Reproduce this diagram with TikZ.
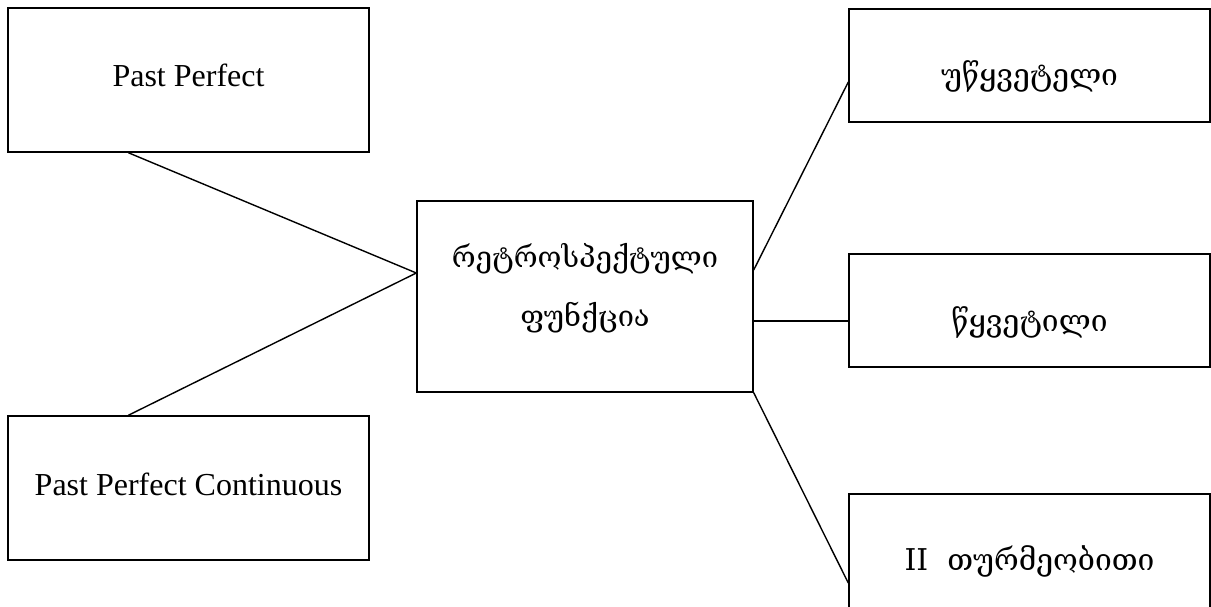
\documentclass[tikz,border=0pt]{standalone}
\usepackage{fontspec}
\setmainfont{Liberation Serif}
\newfontfamily\geo{DejaVu Serif}
\usetikzlibrary{calc}

\begin{document}
\begin{tikzpicture}[x=1pt,y=-1pt,
  box/.style={draw, line width=1.4pt, inner sep=0pt,
    minimum width=361pt, minimum height=113pt,
    font=\fontsize{32}{38}\selectfont},
  geobox/.style={box, font=\geo\fontsize{30}{36}\selectfont},
  link/.style={line width=1.4pt}]
\useasboundingbox (0,0) rectangle (1211,607);

% left column: English tense names
\node[box, minimum height=144pt, text height=30pt, text depth=16pt]
  (pp) at (188.5,80) {Past Perfect};
\node[box, minimum height=144pt, text height=30pt, text depth=16pt]
  (ppc) at (188.5,488) {Past Perfect Continuous};

% central box
\node[box, minimum width=336pt, minimum height=191pt, align=center,
      font=\geo\fontsize{29}{59}\selectfont]
  (ret) at (585,296.5)
  {\rule{0pt}{30pt}რეტროსპექტული\\ფუნქცია\rule[-30pt]{0pt}{30pt}};

% right column: Georgian tense names
\node[geobox, text height=46pt, text depth=5pt]
  (unc) at (1029.5,65.5) {უწყვეტელი};
\node[geobox, text height=46pt, text depth=5pt]
  (cont) at (1029.5,310.5) {წყვეტილი};
\node[geobox, minimum height=116pt, text height=42pt, text depth=6pt]
  (perf) at (1029.5,552) {II\ \ თურმეობითი};

% connectors
\draw[link] ($(pp.south west)+(121,0)$) -- ($(ret.west)+(0,-23.5)$);
\draw[link] ($(ppc.north west)+(121,0)$) -- ($(ret.west)+(0,-23.5)$);
\draw[link] ($(ret.east)+(0,-26.5)$) -- ($(unc.west)+(0,16.5)$);
\draw[link] ($(ret.east)+(0,24.5)$) -- ($(cont.west)+(0,10.5)$);
\draw[link] (ret.south east) -- ($(perf.west)+(0,31)$);
\end{tikzpicture}
\end{document}
